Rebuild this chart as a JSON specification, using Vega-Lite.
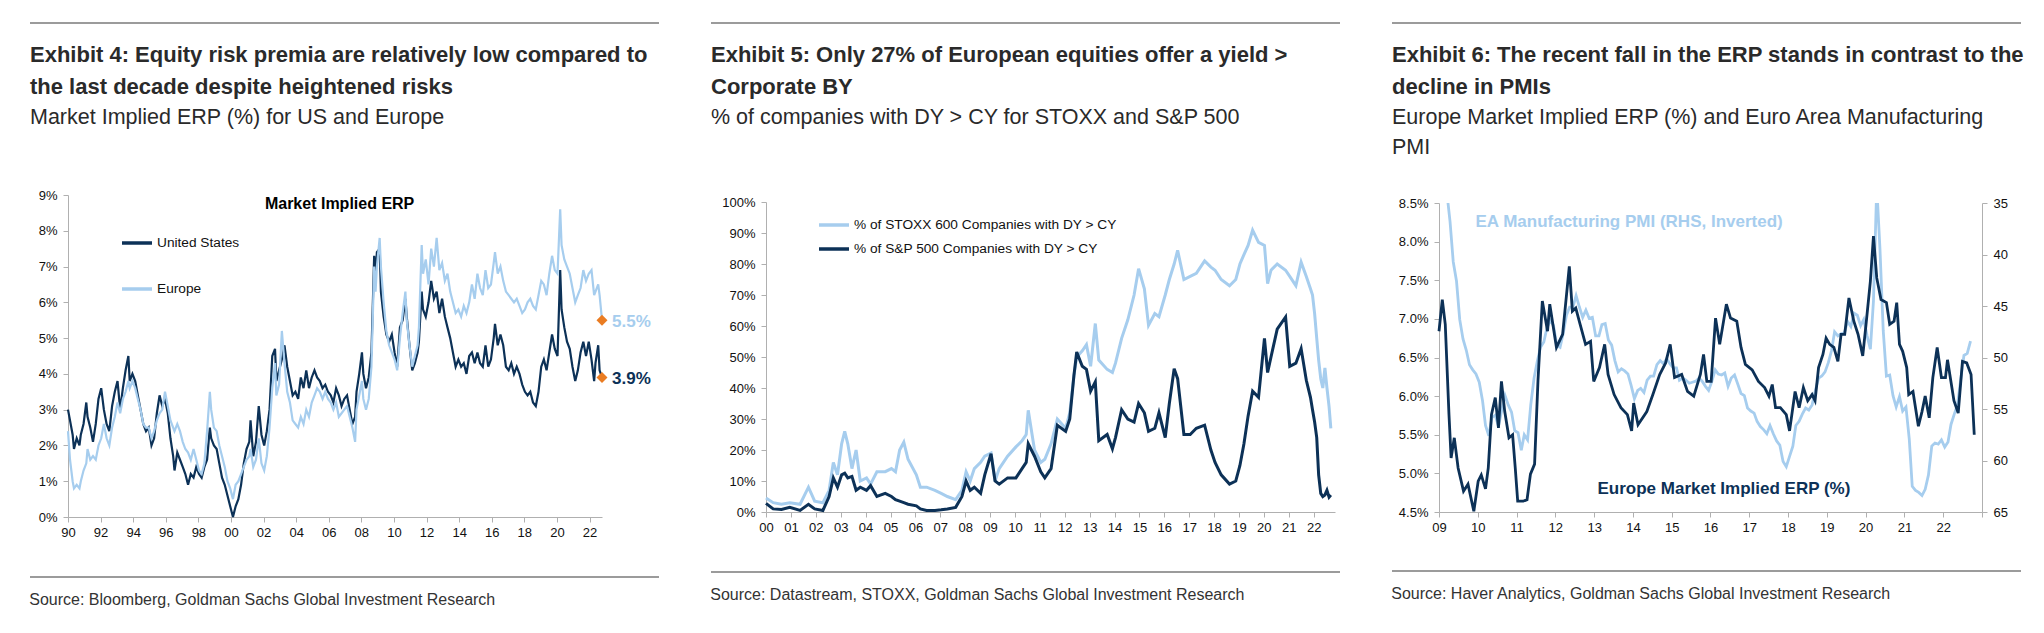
{
  "$schema": "https://vega.github.io/schema/vega-lite/v6.json",
  "padding": {"left": 29, "top": 22, "right": 0, "bottom": 0},
  "background": "white",
  "config": {
    "view": {"stroke": null},
    "font": "Liberation Sans",
    "axis": {"labelFont": "Liberation Sans", "labelFontSize": 13, "labelColor": "#111111", "domainColor": "#b0b0b0", "tickColor": "#b0b0b0", "tickSize": 5, "grid": false, "title": null, "labelPadding": 4, "labelFlush": false, "labelOverlap": false, "labelSeparation": -40},
    "axisX": {"labelOverlap": false, "labelSeparation": -40},
    "axisY": {"labelPadding": 6, "labelOverlap": false, "labelSeparation": -40},
    "legend": {"labelFont": "Liberation Sans", "labelFontSize": 13.7, "labelColor": "#111111", "labelLimit": 400},
    "title": {"font": "Liberation Sans", "fontSize": 22, "fontWeight": "bold", "color": "#2a2a2a", "anchor": "start", "lineHeight": 32, "subtitleFont": "Liberation Sans", "subtitleFontSize": 21.5, "subtitleColor": "#2a2a2a", "subtitleFontWeight": "normal", "subtitleLineHeight": 30, "subtitlePadding": 8, "frame": "bounds"}
  },
  "datasets": {
    "erp": [
      {"d":"1990-01-01","US":3.0,"EU":2.4},{"d":"1990-02-15","US":2.7,"EU":1.6},{"d":"1990-04-15","US":2.3,"EU":1.0},{"d":"1990-05-15","US":1.9,"EU":0.8},{"d":"1990-07-15","US":2.2,"EU":0.9},{"d":"1990-09-15","US":2.0,"EU":0.8},{"d":"1990-10-15","US":2.3,"EU":1.0},{"d":"1990-12-15","US":2.6,"EU":1.3},
      {"d":"1991-02-15","US":3.2,"EU":1.5},{"d":"1991-03-15","US":2.8,"EU":1.9},{"d":"1991-05-15","US":2.5,"EU":1.6},{"d":"1991-07-15","US":2.1,"EU":1.7},{"d":"1991-09-15","US":2.6,"EU":1.6},{"d":"1991-11-15","US":3.3,"EU":2.0},
      {"d":"1992-01-15","US":3.6,"EU":2.2},{"d":"1992-03-15","US":3.0,"EU":2.6},{"d":"1992-05-15","US":2.6,"EU":2.2},{"d":"1992-07-15","US":2.4,"EU":2.0},{"d":"1992-09-15","US":3.1,"EU":2.5},{"d":"1992-11-15","US":3.5,"EU":2.8},
      {"d":"1993-01-15","US":3.8,"EU":3.2},{"d":"1993-03-15","US":3.0,"EU":2.9},{"d":"1993-05-15","US":3.6,"EU":3.3},{"d":"1993-07-15","US":4.1,"EU":3.5},{"d":"1993-09-15","US":4.5,"EU":3.8},{"d":"1993-10-15","US":3.8,"EU":3.6},{"d":"1993-12-15","US":4.0,"EU":3.8},
      {"d":"1994-02-15","US":3.8,"EU":3.6},{"d":"1994-04-15","US":3.4,"EU":3.3},{"d":"1994-06-15","US":3.0,"EU":3.0},{"d":"1994-08-15","US":2.6,"EU":2.6},{"d":"1994-10-15","US":2.4,"EU":2.5},{"d":"1994-12-15","US":2.5,"EU":2.5},
      {"d":"1995-02-15","US":2.0,"EU":2.2},{"d":"1995-04-15","US":2.2,"EU":2.4},{"d":"1995-06-15","US":2.9,"EU":2.7},{"d":"1995-08-15","US":3.4,"EU":2.9},{"d":"1995-10-15","US":3.1,"EU":3.0},{"d":"1995-12-15","US":3.3,"EU":3.5},
      {"d":"1996-02-15","US":2.9,"EU":3.1},{"d":"1996-04-15","US":2.2,"EU":2.7},{"d":"1996-06-15","US":1.7,"EU":2.5},{"d":"1996-07-15","US":1.3,"EU":2.4},{"d":"1996-09-15","US":1.8,"EU":2.6},{"d":"1996-11-15","US":1.6,"EU":2.4},
      {"d":"1997-01-15","US":1.4,"EU":2.1},{"d":"1997-03-15","US":1.2,"EU":1.9},{"d":"1997-05-15","US":0.9,"EU":1.8},{"d":"1997-07-15","US":1.2,"EU":1.6},{"d":"1997-09-15","US":1.1,"EU":1.9},{"d":"1997-11-15","US":1.4,"EU":1.6},
      {"d":"1998-01-15","US":1.2,"EU":1.3},{"d":"1998-03-15","US":1.1,"EU":1.2},{"d":"1998-05-15","US":1.4,"EU":1.5},{"d":"1998-07-15","US":1.6,"EU":2.4},{"d":"1998-09-15","US":2.5,"EU":3.5},{"d":"1998-10-15","US":2.2,"EU":3.0},{"d":"1998-12-15","US":2.0,"EU":2.5},
      {"d":"1999-02-15","US":1.9,"EU":2.4},{"d":"1999-04-15","US":1.5,"EU":2.0},{"d":"1999-06-15","US":1.1,"EU":1.7},{"d":"1999-08-15","US":0.9,"EU":1.4},{"d":"1999-10-15","US":0.6,"EU":1.0},{"d":"1999-12-15","US":0.3,"EU":0.8},
      {"d":"2000-02-15","US":0.0,"EU":0.5},{"d":"2000-04-15","US":0.3,"EU":0.9},{"d":"2000-06-15","US":0.5,"EU":1.0},{"d":"2000-08-15","US":0.9,"EU":1.2},{"d":"2000-10-15","US":1.5,"EU":1.4},{"d":"2000-12-15","US":1.9,"EU":1.6},
      {"d":"2001-02-15","US":2.1,"EU":1.7},{"d":"2001-03-15","US":2.7,"EU":1.9},{"d":"2001-05-15","US":1.7,"EU":1.4},{"d":"2001-07-15","US":2.1,"EU":1.6},{"d":"2001-09-15","US":3.1,"EU":2.2},{"d":"2001-11-15","US":2.3,"EU":1.5},
      {"d":"2002-01-15","US":2.0,"EU":1.3},{"d":"2002-03-15","US":2.4,"EU":1.7},{"d":"2002-05-15","US":3.0,"EU":2.5},{"d":"2002-07-15","US":4.5,"EU":3.6},{"d":"2002-09-15","US":4.7,"EU":4.3},{"d":"2002-10-15","US":3.8,"EU":3.4},{"d":"2002-12-15","US":4.1,"EU":3.7},
      {"d":"2003-02-15","US":4.4,"EU":5.2},{"d":"2003-04-15","US":4.8,"EU":4.3},{"d":"2003-06-15","US":4.2,"EU":3.5},{"d":"2003-08-15","US":3.8,"EU":3.2},{"d":"2003-10-15","US":3.4,"EU":2.7},{"d":"2003-12-15","US":3.5,"EU":2.6},
      {"d":"2004-02-15","US":3.3,"EU":2.5},{"d":"2004-04-15","US":3.9,"EU":2.8},{"d":"2004-06-15","US":3.6,"EU":2.6},{"d":"2004-08-15","US":4.1,"EU":3.0},{"d":"2004-10-15","US":3.6,"EU":2.8},{"d":"2004-12-15","US":3.9,"EU":3.2},
      {"d":"2005-02-15","US":4.1,"EU":3.4},{"d":"2005-04-15","US":3.9,"EU":3.6},{"d":"2005-06-15","US":3.8,"EU":3.5},{"d":"2005-08-15","US":3.6,"EU":3.3},{"d":"2005-10-15","US":3.7,"EU":3.5},{"d":"2005-12-15","US":3.5,"EU":3.3},
      {"d":"2006-02-15","US":3.4,"EU":3.2},{"d":"2006-04-15","US":3.2,"EU":3.0},{"d":"2006-06-15","US":3.6,"EU":3.2},{"d":"2006-08-15","US":3.4,"EU":2.8},{"d":"2006-10-15","US":3.1,"EU":2.9},{"d":"2006-12-15","US":3.3,"EU":3.0},
      {"d":"2007-02-15","US":3.4,"EU":3.1},{"d":"2007-04-15","US":3.0,"EU":2.8},{"d":"2007-06-15","US":2.6,"EU":2.5},{"d":"2007-08-15","US":2.8,"EU":2.1},{"d":"2007-09-15","US":3.5,"EU":3.0},{"d":"2007-11-15","US":4.0,"EU":3.4},
      {"d":"2008-01-15","US":4.6,"EU":3.8},{"d":"2008-02-15","US":4.0,"EU":3.3},{"d":"2008-04-15","US":3.6,"EU":3.0},{"d":"2008-06-15","US":3.9,"EU":3.3},{"d":"2008-08-15","US":4.6,"EU":4.2},{"d":"2008-10-15","US":7.3,"EU":7.0},{"d":"2008-11-15","US":6.8,"EU":6.3},{"d":"2008-12-15","US":7.4,"EU":7.0},
      {"d":"2009-02-15","US":7.5,"EU":7.8},{"d":"2009-03-15","US":6.3,"EU":7.0},{"d":"2009-05-15","US":5.6,"EU":6.0},{"d":"2009-07-15","US":5.1,"EU":5.2},{"d":"2009-09-15","US":4.9,"EU":4.8},{"d":"2009-11-15","US":5.1,"EU":4.6},
      {"d":"2010-01-15","US":4.6,"EU":4.4},{"d":"2010-03-15","US":4.2,"EU":4.1},{"d":"2010-05-15","US":5.3,"EU":5.0},{"d":"2010-07-15","US":5.5,"EU":5.7},{"d":"2010-09-15","US":6.1,"EU":6.3},{"d":"2010-10-15","US":5.6,"EU":5.5},{"d":"2010-12-15","US":4.8,"EU":4.8},
      {"d":"2011-02-15","US":4.1,"EU":4.2},{"d":"2011-04-15","US":4.3,"EU":4.5},{"d":"2011-06-15","US":4.6,"EU":4.8},{"d":"2011-07-15","US":4.9,"EU":5.3},{"d":"2011-09-15","US":6.3,"EU":7.6},{"d":"2011-10-15","US":5.8,"EU":6.8},{"d":"2011-12-15","US":5.6,"EU":7.2},
      {"d":"2012-02-15","US":6.0,"EU":6.5},{"d":"2012-04-15","US":6.6,"EU":7.5},{"d":"2012-06-15","US":6.1,"EU":7.0},{"d":"2012-08-15","US":6.3,"EU":7.8},{"d":"2012-10-15","US":5.7,"EU":6.9},{"d":"2012-12-15","US":6.1,"EU":7.1},
      {"d":"2013-02-15","US":5.6,"EU":6.6},{"d":"2013-04-15","US":5.3,"EU":6.8},{"d":"2013-06-15","US":5.0,"EU":6.3},{"d":"2013-08-15","US":4.6,"EU":6.0},{"d":"2013-10-15","US":4.2,"EU":5.7},{"d":"2013-12-15","US":4.4,"EU":5.8},
      {"d":"2014-02-15","US":4.2,"EU":5.6},{"d":"2014-04-15","US":4.3,"EU":5.9},{"d":"2014-06-15","US":4.0,"EU":5.7},{"d":"2014-08-15","US":4.5,"EU":6.0},{"d":"2014-10-15","US":4.6,"EU":6.5},{"d":"2014-12-15","US":4.3,"EU":6.1},
      {"d":"2015-02-15","US":4.6,"EU":6.8},{"d":"2015-04-15","US":4.3,"EU":6.4},{"d":"2015-06-15","US":4.2,"EU":6.2},{"d":"2015-08-15","US":4.8,"EU":6.9},{"d":"2015-10-15","US":4.2,"EU":6.4},{"d":"2015-12-15","US":4.4,"EU":6.5},
      {"d":"2016-02-15","US":5.0,"EU":7.1},{"d":"2016-03-15","US":5.4,"EU":7.4},{"d":"2016-05-15","US":4.8,"EU":6.8},{"d":"2016-07-15","US":5.1,"EU":7.0},{"d":"2016-09-15","US":4.8,"EU":6.6},{"d":"2016-11-15","US":4.2,"EU":6.3},
      {"d":"2017-01-15","US":4.1,"EU":6.2},{"d":"2017-03-15","US":4.3,"EU":6.1},{"d":"2017-05-15","US":4.0,"EU":6.0},{"d":"2017-07-15","US":4.2,"EU":6.1},{"d":"2017-09-15","US":4.0,"EU":5.9},{"d":"2017-11-15","US":3.7,"EU":5.7},
      {"d":"2018-01-15","US":3.5,"EU":5.8},{"d":"2018-03-15","US":3.4,"EU":6.0},{"d":"2018-05-15","US":3.5,"EU":6.1},{"d":"2018-07-15","US":3.2,"EU":5.9},{"d":"2018-09-15","US":3.1,"EU":5.8},{"d":"2018-11-15","US":3.5,"EU":6.2},
      {"d":"2019-01-15","US":4.2,"EU":6.6},{"d":"2019-03-15","US":4.4,"EU":6.5},{"d":"2019-05-15","US":4.1,"EU":6.2},{"d":"2019-07-15","US":4.6,"EU":6.8},{"d":"2019-09-15","US":5.1,"EU":7.3},{"d":"2019-11-15","US":4.7,"EU":6.9},
      {"d":"2020-01-15","US":4.5,"EU":6.8},{"d":"2020-03-15","US":6.9,"EU":8.6},{"d":"2020-04-15","US":5.8,"EU":7.6},{"d":"2020-06-15","US":5.3,"EU":7.2},{"d":"2020-08-15","US":4.9,"EU":7.0},{"d":"2020-10-15","US":4.7,"EU":6.8},{"d":"2020-12-15","US":4.2,"EU":6.4},
      {"d":"2021-02-15","US":3.8,"EU":6.0},{"d":"2021-04-15","US":4.1,"EU":6.2},{"d":"2021-06-15","US":4.6,"EU":6.4},{"d":"2021-08-15","US":4.9,"EU":6.9},{"d":"2021-10-15","US":4.5,"EU":6.6},{"d":"2021-12-15","US":4.9,"EU":6.8},
      {"d":"2022-02-15","US":4.4,"EU":6.9},{"d":"2022-04-15","US":3.8,"EU":6.2},{"d":"2022-05-15","US":4.3,"EU":6.3},{"d":"2022-07-15","US":4.8,"EU":6.5},{"d":"2022-08-15","US":4.1,"EU":6.2},{"d":"2022-10-08","US":3.9,"EU":5.5}
    ],
    "erpEnd": [
      {"d":"2022-10-08","s":"EU","v":5.5,"lab":"5.5%"},
      {"d":"2022-10-08","s":"US","v":3.9,"lab":"3.9%"}
    ],
    "dy": [
      {"d":"2000-01-01","STOXX":4.5,"SP":2.8},{"d":"2000-04-15","STOXX":3.0,"SP":1.0},{"d":"2000-08-15","STOXX":2.5,"SP":0.8},{"d":"2000-12-15","STOXX":3.0,"SP":1.5},
      {"d":"2001-05-15","STOXX":2.5,"SP":0.5},{"d":"2001-09-15","STOXX":8.0,"SP":2.5},{"d":"2001-12-15","STOXX":3.5,"SP":1.0},
      {"d":"2002-04-15","STOXX":3.0,"SP":0.5},{"d":"2002-07-15","STOXX":7.0,"SP":5.0},{"d":"2002-09-15","STOXX":16.0,"SP":11.0},{"d":"2002-11-15","STOXX":12.0,"SP":8.0},
      {"d":"2003-01-15","STOXX":22.0,"SP":12.0},{"d":"2003-03-01","STOXX":26.0,"SP":12.5},{"d":"2003-04-15","STOXX":22.0,"SP":11.0},{"d":"2003-06-15","STOXX":14.0,"SP":11.5},{"d":"2003-08-15","STOXX":20.0,"SP":7.0},{"d":"2003-10-15","STOXX":10.0,"SP":8.0},
      {"d":"2004-01-15","STOXX":11.0,"SP":7.0},{"d":"2004-03-15","STOXX":9.0,"SP":8.5},{"d":"2004-06-15","STOXX":13.0,"SP":5.0},{"d":"2004-10-15","STOXX":13.0,"SP":6.0},
      {"d":"2005-01-15","STOXX":14.0,"SP":5.0},{"d":"2005-03-15","STOXX":13.0,"SP":4.0},{"d":"2005-05-15","STOXX":20.0,"SP":3.5},{"d":"2005-07-15","STOXX":22.5,"SP":3.0},{"d":"2005-09-15","STOXX":17.0,"SP":2.5},
      {"d":"2006-01-15","STOXX":12.0,"SP":2.0},{"d":"2006-03-15","STOXX":8.0,"SP":1.0},{"d":"2006-06-15","STOXX":8.0,"SP":0.5},{"d":"2006-10-15","STOXX":7.0,"SP":0.5},
      {"d":"2007-01-15","STOXX":6.0,"SP":0.7},{"d":"2007-04-15","STOXX":5.0,"SP":1.0},{"d":"2007-08-15","STOXX":4.0,"SP":1.5},{"d":"2007-11-15","STOXX":7.0,"SP":5.0},
      {"d":"2008-01-15","STOXX":13.0,"SP":10.0},{"d":"2008-03-15","STOXX":10.0,"SP":7.0},{"d":"2008-05-15","STOXX":14.0,"SP":8.0},{"d":"2008-08-15","STOXX":16.0,"SP":6.0},{"d":"2008-10-15","STOXX":18.0,"SP":12.0},
      {"d":"2009-01-15","STOXX":19.0,"SP":18.8},{"d":"2009-03-15","STOXX":10.0,"SP":10.0},{"d":"2009-05-15","STOXX":14.0,"SP":9.0},{"d":"2009-09-15","STOXX":18.0,"SP":11.0},
      {"d":"2010-01-15","STOXX":21.0,"SP":11.0},{"d":"2010-04-15","STOXX":23.0,"SP":14.0},{"d":"2010-06-15","STOXX":25.0,"SP":16.0},{"d":"2010-07-15","STOXX":32.8,"SP":22.0},{"d":"2010-10-15","STOXX":20.0,"SP":18.0},
      {"d":"2011-01-15","STOXX":16.0,"SP":13.0},{"d":"2011-03-15","STOXX":17.0,"SP":11.0},{"d":"2011-06-15","STOXX":22.0,"SP":14.0},{"d":"2011-09-15","STOXX":30.0,"SP":28.0},
      {"d":"2012-01-15","STOXX":27.0,"SP":26.0},{"d":"2012-03-15","STOXX":32.0,"SP":30.0},{"d":"2012-05-15","STOXX":44.0,"SP":44.0},{"d":"2012-06-25","STOXX":50.0,"SP":51.6},{"d":"2012-09-15","STOXX":52.0,"SP":47.0},{"d":"2012-11-15","STOXX":54.0,"SP":46.0},
      {"d":"2013-01-15","STOXX":47.0,"SP":39.0},{"d":"2013-03-25","STOXX":60.8,"SP":42.0},{"d":"2013-05-15","STOXX":49.0,"SP":23.0},{"d":"2013-09-15","STOXX":46.0,"SP":25.0},{"d":"2013-12-01","STOXX":45.0,"SP":20.4},
      {"d":"2014-01-15","STOXX":48.0,"SP":24.0},{"d":"2014-04-15","STOXX":56.0,"SP":33.0},{"d":"2014-07-15","STOXX":62.0,"SP":30.0},{"d":"2014-10-15","STOXX":70.0,"SP":29.0},{"d":"2014-12-20","STOXX":78.5,"SP":35.0},
      {"d":"2015-03-15","STOXX":72.0,"SP":32.0},{"d":"2015-05-15","STOXX":60.2,"SP":26.0},{"d":"2015-08-15","STOXX":64.0,"SP":27.0},{"d":"2015-10-15","STOXX":63.0,"SP":32.0},
      {"d":"2016-01-15","STOXX":70.0,"SP":24.0},{"d":"2016-03-15","STOXX":75.0,"SP":35.0},{"d":"2016-05-25","STOXX":80.0,"SP":46.2},{"d":"2016-07-15","STOXX":84.4,"SP":43.0},{"d":"2016-10-15","STOXX":75.0,"SP":25.0},
      {"d":"2017-01-15","STOXX":76.0,"SP":25.0},{"d":"2017-04-15","STOXX":77.0,"SP":27.0},{"d":"2017-08-15","STOXX":81.0,"SP":28.0},{"d":"2017-11-15","STOXX":79.0,"SP":20.0},
      {"d":"2018-01-15","STOXX":78.0,"SP":16.0},{"d":"2018-04-15","STOXX":75.0,"SP":12.0},{"d":"2018-08-15","STOXX":73.0,"SP":9.0},{"d":"2018-11-15","STOXX":75.0,"SP":10.0},
      {"d":"2019-01-15","STOXX":80.0,"SP":15.0},{"d":"2019-03-15","STOXX":83.0,"SP":22.0},{"d":"2019-05-15","STOXX":86.0,"SP":31.0},{"d":"2019-07-20","STOXX":90.9,"SP":39.0},{"d":"2019-10-15","STOXX":87.0,"SP":37.0},
      {"d":"2020-01-10","STOXX":86.0,"SP":56.0},{"d":"2020-02-25","STOXX":73.7,"SP":45.0},{"d":"2020-04-15","STOXX":78.0,"SP":50.0},{"d":"2020-07-15","STOXX":80.0,"SP":59.0},{"d":"2020-11-15","STOXX":78.0,"SP":62.9},
      {"d":"2021-01-15","STOXX":76.0,"SP":47.0},{"d":"2021-04-15","STOXX":73.0,"SP":48.0},{"d":"2021-07-01","STOXX":80.6,"SP":52.7},{"d":"2021-09-15","STOXX":76.0,"SP":42.5},{"d":"2021-11-15","STOXX":72.0,"SP":37.0},{"d":"2021-12-15","STOXX":70.0,"SP":33.0},
      {"d":"2022-01-15","STOXX":64.0,"SP":29.0},{"d":"2022-02-15","STOXX":56.0,"SP":24.0},{"d":"2022-03-15","STOXX":49.0,"SP":12.0},{"d":"2022-04-15","STOXX":43.0,"SP":6.0},{"d":"2022-05-15","STOXX":40.0,"SP":5.0},{"d":"2022-06-15","STOXX":46.5,"SP":5.5},{"d":"2022-07-15","STOXX":40.0,"SP":7.0},{"d":"2022-08-15","STOXX":34.0,"SP":4.8},{"d":"2022-09-10","STOXX":27.0,"SP":5.5}
    ],
    "erp3": [
      {"d":"2009-01-01","v":6.84},{"d":"2009-02-01","v":7.25},{"d":"2009-03-01","v":6.93},{"d":"2009-04-05","v":5.76},{"d":"2009-04-25","v":5.2},{"d":"2009-05-25","v":5.46},{"d":"2009-06-30","v":5.07},{"d":"2009-08-20","v":4.77},{"d":"2009-10-01","v":4.86},{"d":"2009-11-25","v":4.51},
      {"d":"2010-01-05","v":4.9},{"d":"2010-02-03","v":4.98},{"d":"2010-03-15","v":4.8},{"d":"2010-04-10","v":5.07},{"d":"2010-05-10","v":5.76},{"d":"2010-06-15","v":5.98},{"d":"2010-07-15","v":5.59},{"d":"2010-08-12","v":6.19},{"d":"2010-09-12","v":5.8},{"d":"2010-10-22","v":5.46},{"d":"2010-11-25","v":5.5},{"d":"2010-12-20","v":5.07},
      {"d":"2011-01-12","v":4.64},{"d":"2011-03-05","v":4.64},{"d":"2011-04-10","v":4.66},{"d":"2011-05-12","v":4.99},{"d":"2011-06-20","v":5.12},{"d":"2011-07-22","v":6.2},{"d":"2011-09-01","v":7.23},{"d":"2011-10-20","v":6.84},{"d":"2011-11-10","v":7.19},
      {"d":"2012-01-12","v":6.63},{"d":"2012-03-10","v":6.8},{"d":"2012-05-12","v":7.68},{"d":"2012-06-10","v":7.1},{"d":"2012-07-12","v":7.14},{"d":"2012-08-22","v":6.93},{"d":"2012-10-12","v":6.67},{"d":"2012-11-28","v":6.71},{"d":"2012-12-28","v":6.19},
      {"d":"2013-02-20","v":6.37},{"d":"2013-04-10","v":6.67},{"d":"2013-05-12","v":6.28},{"d":"2013-07-08","v":6.02},{"d":"2013-09-10","v":5.85},{"d":"2013-11-10","v":5.76},{"d":"2013-12-20","v":5.55},
      {"d":"2014-01-08","v":5.91},{"d":"2014-02-18","v":5.63},{"d":"2014-05-12","v":5.8},{"d":"2014-07-08","v":6.02},{"d":"2014-09-10","v":6.28},{"d":"2014-11-05","v":6.43},{"d":"2014-12-18","v":6.67},
      {"d":"2015-01-28","v":6.24},{"d":"2015-04-05","v":6.28},{"d":"2015-05-30","v":6.06},{"d":"2015-07-28","v":6.0},{"d":"2015-09-28","v":6.28},{"d":"2015-10-28","v":6.54},{"d":"2015-11-28","v":6.19},
      {"d":"2016-01-08","v":6.19},{"d":"2016-02-18","v":7.01},{"d":"2016-03-28","v":6.67},{"d":"2016-05-30","v":7.19},{"d":"2016-07-08","v":7.01},{"d":"2016-09-05","v":6.97},{"d":"2016-10-15","v":6.63},{"d":"2016-11-25","v":6.41},
      {"d":"2017-01-28","v":6.34},{"d":"2017-03-28","v":6.19},{"d":"2017-05-25","v":6.11},{"d":"2017-07-05","v":6.0},{"d":"2017-08-05","v":6.15},{"d":"2017-09-05","v":5.85},{"d":"2017-10-20","v":5.85},{"d":"2017-12-15","v":5.76},
      {"d":"2018-01-15","v":5.55},{"d":"2018-03-08","v":6.06},{"d":"2018-04-15","v":5.85},{"d":"2018-05-25","v":6.11},{"d":"2018-07-05","v":5.94},{"d":"2018-08-15","v":6.02},{"d":"2018-09-12","v":5.94},{"d":"2018-10-15","v":6.37},{"d":"2018-11-25","v":6.54},{"d":"2018-12-25","v":6.75},
      {"d":"2019-01-28","v":6.67},{"d":"2019-03-08","v":6.63},{"d":"2019-04-15","v":6.45},{"d":"2019-05-15","v":6.8},{"d":"2019-06-18","v":6.8},{"d":"2019-07-28","v":7.27},{"d":"2019-09-12","v":6.97},{"d":"2019-10-22","v":6.8},{"d":"2019-12-05","v":6.52},
      {"d":"2020-01-05","v":6.93},{"d":"2020-02-15","v":7.49},{"d":"2020-03-15","v":8.07},{"d":"2020-04-15","v":7.53},{"d":"2020-05-25","v":7.25},{"d":"2020-07-15","v":7.21},{"d":"2020-08-15","v":6.93},{"d":"2020-09-25","v":6.97},{"d":"2020-10-20","v":7.21},{"d":"2020-11-15","v":6.67},{"d":"2020-12-15","v":6.58},
      {"d":"2021-01-22","v":6.37},{"d":"2021-02-10","v":6.02},{"d":"2021-03-22","v":6.06},{"d":"2021-05-12","v":5.61},{"d":"2021-06-15","v":5.8},{"d":"2021-07-15","v":6.0},{"d":"2021-08-22","v":5.72},{"d":"2021-09-25","v":6.24},{"d":"2021-11-05","v":6.63},{"d":"2021-12-15","v":6.24},
      {"d":"2022-01-22","v":6.24},{"d":"2022-02-10","v":6.47},{"d":"2022-04-12","v":5.94},{"d":"2022-05-22","v":5.78},{"d":"2022-07-01","v":6.45},{"d":"2022-08-10","v":6.43},{"d":"2022-09-20","v":6.28},{"d":"2022-10-20","v":5.5}
    ],
    "pmi": [
      {"d":"2009-01-15","v":34.4},{"d":"2009-02-15","v":33.5},{"d":"2009-03-15","v":33.9},{"d":"2009-04-15","v":36.8},{"d":"2009-05-15","v":40.7},{"d":"2009-06-15","v":42.6},{"d":"2009-07-15","v":46.3},{"d":"2009-08-15","v":48.2},{"d":"2009-09-15","v":49.3},{"d":"2009-10-15","v":50.7},{"d":"2009-11-15","v":51.2},{"d":"2009-12-15","v":51.6},
      {"d":"2010-01-15","v":52.4},{"d":"2010-02-15","v":54.2},{"d":"2010-03-15","v":56.6},{"d":"2010-04-15","v":57.6},{"d":"2010-05-15","v":55.8},{"d":"2010-06-15","v":55.6},{"d":"2010-07-15","v":56.7},{"d":"2010-08-15","v":55.1},{"d":"2010-09-15","v":53.7},{"d":"2010-10-15","v":54.6},{"d":"2010-11-15","v":55.3},{"d":"2010-12-15","v":57.1},
      {"d":"2011-01-15","v":57.3},{"d":"2011-02-15","v":59.0},{"d":"2011-03-15","v":57.5},{"d":"2011-04-15","v":58.0},{"d":"2011-05-15","v":54.6},{"d":"2011-06-15","v":52.0},{"d":"2011-07-15","v":50.4},{"d":"2011-08-15","v":49.0},{"d":"2011-09-15","v":48.5},{"d":"2011-10-15","v":47.1},{"d":"2011-11-15","v":46.4},{"d":"2011-12-15","v":46.9},
      {"d":"2012-01-15","v":48.8},{"d":"2012-02-15","v":49.0},{"d":"2012-03-15","v":47.7},{"d":"2012-04-15","v":45.9},{"d":"2012-05-15","v":45.1},{"d":"2012-06-15","v":45.1},{"d":"2012-07-15","v":44.0},{"d":"2012-08-15","v":45.1},{"d":"2012-09-15","v":46.1},{"d":"2012-10-15","v":45.4},{"d":"2012-11-15","v":46.2},{"d":"2012-12-15","v":46.1},
      {"d":"2013-01-15","v":47.9},{"d":"2013-02-15","v":47.9},{"d":"2013-03-15","v":46.8},{"d":"2013-04-15","v":46.7},{"d":"2013-05-15","v":48.3},{"d":"2013-06-15","v":48.8},{"d":"2013-07-15","v":50.3},{"d":"2013-08-15","v":51.4},{"d":"2013-09-15","v":51.1},{"d":"2013-10-15","v":51.3},{"d":"2013-11-15","v":51.6},{"d":"2013-12-15","v":52.7},
      {"d":"2014-01-15","v":54.0},{"d":"2014-02-15","v":53.2},{"d":"2014-03-15","v":53.0},{"d":"2014-04-15","v":53.4},{"d":"2014-05-15","v":52.2},{"d":"2014-06-15","v":51.8},{"d":"2014-07-15","v":51.8},{"d":"2014-08-15","v":50.7},{"d":"2014-09-15","v":50.3},{"d":"2014-10-15","v":50.6},{"d":"2014-11-15","v":50.1},{"d":"2014-12-15","v":50.6},
      {"d":"2015-01-15","v":51.0},{"d":"2015-02-15","v":51.0},{"d":"2015-03-15","v":52.2},{"d":"2015-04-15","v":52.0},{"d":"2015-05-15","v":52.2},{"d":"2015-06-15","v":52.5},{"d":"2015-07-15","v":52.4},{"d":"2015-08-15","v":52.3},{"d":"2015-09-15","v":52.0},{"d":"2015-10-15","v":52.3},{"d":"2015-11-15","v":52.8},{"d":"2015-12-15","v":53.2},
      {"d":"2016-01-15","v":52.3},{"d":"2016-02-15","v":51.2},{"d":"2016-03-15","v":51.6},{"d":"2016-04-15","v":51.7},{"d":"2016-05-15","v":51.5},{"d":"2016-06-15","v":52.8},{"d":"2016-07-15","v":52.0},{"d":"2016-08-15","v":51.7},{"d":"2016-09-15","v":52.6},{"d":"2016-10-15","v":53.5},{"d":"2016-11-15","v":53.7},{"d":"2016-12-15","v":54.9},
      {"d":"2017-01-15","v":55.2},{"d":"2017-02-15","v":55.4},{"d":"2017-03-15","v":56.2},{"d":"2017-04-15","v":56.7},{"d":"2017-05-15","v":57.0},{"d":"2017-06-15","v":57.4},{"d":"2017-07-15","v":56.6},{"d":"2017-08-15","v":57.4},{"d":"2017-09-15","v":58.1},{"d":"2017-10-15","v":58.5},{"d":"2017-11-15","v":60.1},{"d":"2017-12-15","v":60.6},
      {"d":"2018-01-15","v":59.6},{"d":"2018-02-15","v":58.6},{"d":"2018-03-15","v":56.6},{"d":"2018-04-15","v":56.2},{"d":"2018-05-15","v":55.5},{"d":"2018-06-15","v":54.9},{"d":"2018-07-15","v":55.1},{"d":"2018-08-15","v":54.6},{"d":"2018-09-15","v":53.2},{"d":"2018-10-15","v":52.0},{"d":"2018-11-15","v":51.8},{"d":"2018-12-15","v":51.4},
      {"d":"2019-01-15","v":50.5},{"d":"2019-02-15","v":49.3},{"d":"2019-03-15","v":47.5},{"d":"2019-04-15","v":47.9},{"d":"2019-05-15","v":47.7},{"d":"2019-06-15","v":47.6},{"d":"2019-07-15","v":46.5},{"d":"2019-08-15","v":47.0},{"d":"2019-09-15","v":45.7},{"d":"2019-10-15","v":45.9},{"d":"2019-11-15","v":46.9},{"d":"2019-12-15","v":46.3},
      {"d":"2020-01-15","v":47.9},{"d":"2020-02-15","v":49.2},{"d":"2020-03-15","v":44.5},{"d":"2020-04-15","v":33.4},{"d":"2020-05-15","v":39.4},{"d":"2020-06-15","v":47.4},{"d":"2020-07-15","v":51.8},{"d":"2020-08-15","v":51.7},{"d":"2020-09-15","v":53.7},{"d":"2020-10-15","v":54.8},{"d":"2020-11-15","v":53.8},{"d":"2020-12-15","v":55.2},
      {"d":"2021-01-15","v":54.8},{"d":"2021-02-15","v":57.9},{"d":"2021-03-15","v":62.5},{"d":"2021-04-15","v":62.9},{"d":"2021-05-15","v":63.1},{"d":"2021-06-15","v":63.4},{"d":"2021-07-15","v":62.8},{"d":"2021-08-15","v":61.4},{"d":"2021-09-15","v":58.6},{"d":"2021-10-15","v":58.3},{"d":"2021-11-15","v":58.4},{"d":"2021-12-15","v":58.0},
      {"d":"2022-01-15","v":58.7},{"d":"2022-02-15","v":58.2},{"d":"2022-03-15","v":56.5},{"d":"2022-04-15","v":55.5},{"d":"2022-05-15","v":54.6},{"d":"2022-06-15","v":52.1},{"d":"2022-07-15","v":49.8},{"d":"2022-08-15","v":49.6},{"d":"2022-09-15","v":48.4}
    ]
  },
  "resolve": {"scale": {"color": "independent"}, "legend": {"color": "independent"}},
  "spacing": 50,
  "hconcat": [
    {
      "spacing": 10,
      "columns": 1,
      "resolve": {"scale": {"color": "independent"}, "legend": {"color": "independent"}},
      "concat": [
        {"width": 591, "height": 10, "data": {"values": [{}]}, "mark": {"type": "rule", "color": "#7a7a7a", "strokeWidth": 1.5},
         "encoding": {"x": {"datum": -38, "type": "quantitative", "scale": {"domain": [0, 591], "nice": false, "zero": false}, "axis": null}, "x2": {"datum": 591}, "y": {"datum": 1, "type": "quantitative", "scale": {"domain": [0, 1]}, "axis": null}}},
        {
          "width": 534, "height": 322,
          "title": {"text": ["Exhibit 4: Equity risk premia are relatively low compared to", "the last decade despite heightened risks"], "subtitle": "Market Implied ERP (%) for US and Europe", "offset": 60},
          "layer": [
            {
              "data": {"name": "erp"},
              "transform": [{"fold": ["US", "EU"], "as": ["s", "v"]}],
              "mark": {"type": "line", "strokeWidth": 2.2},
              "encoding": {
                "x": {"field": "d", "type": "temporal", "scale": {"type": "utc", "domain": [{"year": 1990, "month": 1, "date": 1, "utc": true}, {"year": 2022, "month": 10, "date": 8, "utc": true}]},
                      "axis": {"labelOverlap": false, "labelSeparation": -40, "labelFlush": false, "values": [{"year":1990,"utc":true},{"year":1992,"utc":true},{"year":1994,"utc":true},{"year":1996,"utc":true},{"year":1998,"utc":true},{"year":2000,"utc":true},{"year":2002,"utc":true},{"year":2004,"utc":true},{"year":2006,"utc":true},{"year":2008,"utc":true},{"year":2010,"utc":true},{"year":2012,"utc":true},{"year":2014,"utc":true},{"year":2016,"utc":true},{"year":2018,"utc":true},{"year":2020,"utc":true},{"year":2022,"utc":true}], "labelExpr": "utcFormat(datum.value, '%y')"}},
                "y": {"field": "v", "type": "quantitative", "scale": {"domain": [0, 9]}, "axis": {"labelOverlap": false, "labelSeparation": -40, "values": [0,1,2,3,4,5,6,7,8,9], "labelExpr": "datum.value + '%'", "minExtent": 38}},
                "color": {"field": "s", "type": "nominal", "scale": {"domain": ["US", "EU"], "range": ["#0c3157", "#a6cdee"]},
                          "legend": {"title": null, "orient": "none", "legendX": 52, "legendY": 31, "direction": "vertical", "symbolType": "stroke", "symbolSize": 900, "symbolStrokeWidth": 3.5, "rowPadding": 22, "labelOffset": 3, "padding": 0, "labelExpr": "datum.label == 'US' ? 'United States' : 'Europe'"}}
              }
            },
            {
              "data": {"name": "erpEnd"},
              "mark": {"type": "point", "shape": "diamond", "filled": true, "color": "#ea7c22", "opacity": 1, "size": 120},
              "encoding": {
                "x": {"field": "d", "type": "temporal", "axis": {"labelOverlap": false, "labelSeparation": -40, "labelFlush": false, "values": [{"year":1990,"utc":true},{"year":1992,"utc":true},{"year":1994,"utc":true},{"year":1996,"utc":true},{"year":1998,"utc":true},{"year":2000,"utc":true},{"year":2002,"utc":true},{"year":2004,"utc":true},{"year":2006,"utc":true},{"year":2008,"utc":true},{"year":2010,"utc":true},{"year":2012,"utc":true},{"year":2014,"utc":true},{"year":2016,"utc":true},{"year":2018,"utc":true},{"year":2020,"utc":true},{"year":2022,"utc":true}], "labelExpr": "utcFormat(datum.value, '%y')"}},
                "y": {"field": "v", "type": "quantitative", "axis": {"labelOverlap": false, "labelSeparation": -40, "values": [0,1,2,3,4,5,6,7,8,9], "labelExpr": "datum.value + '%'", "minExtent": 38}}
              }
            },
            {
              "data": {"name": "erpEnd"},
              "transform": [{"filter": "datum.s == 'EU'"}],
              "mark": {"type": "text", "align": "left", "baseline": "middle", "dx": 10, "dy": 2, "fontSize": 17, "fontWeight": "bold", "color": "#a6cdee"},
              "encoding": {
                "x": {"field": "d", "type": "temporal", "axis": {"labelOverlap": false, "labelSeparation": -40, "labelFlush": false, "values": [{"year":1990,"utc":true},{"year":1992,"utc":true},{"year":1994,"utc":true},{"year":1996,"utc":true},{"year":1998,"utc":true},{"year":2000,"utc":true},{"year":2002,"utc":true},{"year":2004,"utc":true},{"year":2006,"utc":true},{"year":2008,"utc":true},{"year":2010,"utc":true},{"year":2012,"utc":true},{"year":2014,"utc":true},{"year":2016,"utc":true},{"year":2018,"utc":true},{"year":2020,"utc":true},{"year":2022,"utc":true}], "labelExpr": "utcFormat(datum.value, '%y')"}},
                "y": {"field": "v", "type": "quantitative", "axis": {"labelOverlap": false, "labelSeparation": -40, "values": [0,1,2,3,4,5,6,7,8,9], "labelExpr": "datum.value + '%'", "minExtent": 38}},
                "text": {"field": "lab"}}
            },
            {
              "data": {"name": "erpEnd"},
              "transform": [{"filter": "datum.s == 'US'"}],
              "mark": {"type": "text", "align": "left", "baseline": "middle", "dx": 10, "dy": 2, "fontSize": 17, "fontWeight": "bold", "color": "#0c3157"},
              "encoding": {
                "x": {"field": "d", "type": "temporal", "axis": {"labelOverlap": false, "labelSeparation": -40, "labelFlush": false, "values": [{"year":1990,"utc":true},{"year":1992,"utc":true},{"year":1994,"utc":true},{"year":1996,"utc":true},{"year":1998,"utc":true},{"year":2000,"utc":true},{"year":2002,"utc":true},{"year":2004,"utc":true},{"year":2006,"utc":true},{"year":2008,"utc":true},{"year":2010,"utc":true},{"year":2012,"utc":true},{"year":2014,"utc":true},{"year":2016,"utc":true},{"year":2018,"utc":true},{"year":2020,"utc":true},{"year":2022,"utc":true}], "labelExpr": "utcFormat(datum.value, '%y')"}},
                "y": {"field": "v", "type": "quantitative", "axis": {"labelOverlap": false, "labelSeparation": -40, "values": [0,1,2,3,4,5,6,7,8,9], "labelExpr": "datum.value + '%'", "minExtent": 38}},
                "text": {"field": "lab"}}
            },
            {
              "data": {"values": [{}]},
              "mark": {"type": "text", "text": "Market Implied ERP", "fontSize": 16, "fontWeight": "bold", "color": "#000000", "align": "center", "baseline": "middle"},
              "encoding": {
                "x": {"datum": {"year": 2006, "month": 9, "date": 1, "utc": true}, "type": "temporal", "axis": {"labelOverlap": false, "labelSeparation": -40, "labelFlush": false, "values": [{"year":1990,"utc":true},{"year":1992,"utc":true},{"year":1994,"utc":true},{"year":1996,"utc":true},{"year":1998,"utc":true},{"year":2000,"utc":true},{"year":2002,"utc":true},{"year":2004,"utc":true},{"year":2006,"utc":true},{"year":2008,"utc":true},{"year":2010,"utc":true},{"year":2012,"utc":true},{"year":2014,"utc":true},{"year":2016,"utc":true},{"year":2018,"utc":true},{"year":2020,"utc":true},{"year":2022,"utc":true}], "labelExpr": "utcFormat(datum.value, '%y')"}},
                "y": {"datum": 8.75, "type": "quantitative", "axis": {"labelOverlap": false, "labelSeparation": -40, "values": [0,1,2,3,4,5,6,7,8,9], "labelExpr": "datum.value + '%'", "minExtent": 38}}
              }
            }
          ]
        },
        {"width": 591, "height": 28, "data": {"values": [{}]}, "mark": {"type": "rule", "color": "#7a7a7a", "strokeWidth": 1.5},
         "encoding": {"x": {"datum": -38, "type": "quantitative", "scale": {"domain": [0, 591], "nice": false, "zero": false}, "axis": null}, "x2": {"datum": 591}, "y": {"datum": 0, "type": "quantitative", "scale": {"domain": [0, 1]}, "axis": null}},
         "title": {"text": "Source: Bloomberg, Goldman Sachs Global Investment Research", "orient": "bottom", "anchor": "start", "offset": 14, "fontSize": 16, "fontWeight": "normal", "color": "#333333"}}
      ]
    },
    {
      "spacing": 10,
      "columns": 1,
      "resolve": {"scale": {"color": "independent"}, "legend": {"color": "independent"}},
      "concat": [
        {"width": 574, "height": 10, "data": {"values": [{}]}, "mark": {"type": "rule", "color": "#7a7a7a", "strokeWidth": 1.5},
         "encoding": {"x": {"datum": -55, "type": "quantitative", "scale": {"domain": [0, 574], "nice": false, "zero": false}, "axis": null}, "x2": {"datum": 574}, "y": {"datum": 1, "type": "quantitative", "scale": {"domain": [0, 1]}, "axis": null}}},
        {
          "width": 569, "height": 310,
          "title": {"text": ["Exhibit 5: Only 27% of European equities offer a yield >", "Corporate BY"], "subtitle": "% of companies with DY > CY for STOXX and S&P 500", "offset": 67},
          "data": {"name": "dy"},
          "transform": [{"fold": ["STOXX", "SP"], "as": ["s", "v"]}],
          "mark": {"type": "line", "strokeWidth": 3},
          "encoding": {
            "x": {"field": "d", "type": "temporal", "scale": {"type": "utc", "domain": [{"year": 2000, "month": 1, "date": 1, "utc": true}, {"year": 2022, "month": 11, "date": 10, "utc": true}]},
                  "axis": {"labelOverlap": false, "labelFlush": false, "values": [{"year":2000,"utc":true},{"year":2001,"utc":true},{"year":2002,"utc":true},{"year":2003,"utc":true},{"year":2004,"utc":true},{"year":2005,"utc":true},{"year":2006,"utc":true},{"year":2007,"utc":true},{"year":2008,"utc":true},{"year":2009,"utc":true},{"year":2010,"utc":true},{"year":2011,"utc":true},{"year":2012,"utc":true},{"year":2013,"utc":true},{"year":2014,"utc":true},{"year":2015,"utc":true},{"year":2016,"utc":true},{"year":2017,"utc":true},{"year":2018,"utc":true},{"year":2019,"utc":true},{"year":2020,"utc":true},{"year":2021,"utc":true},{"year":2022,"utc":true}], "labelExpr": "utcFormat(datum.value, '%y')"}},
            "y": {"field": "v", "type": "quantitative", "scale": {"domain": [0, 100]}, "axis": {"labelOverlap": false, "values": [0,10,20,30,40,50,60,70,80,90,100], "labelExpr": "datum.value + '%'", "minExtent": 55}},
            "color": {"field": "s", "type": "nominal", "scale": {"domain": ["STOXX", "SP"], "range": ["#a6cdee", "#0c3157"]},
                      "legend": {"title": null, "orient": "none", "legendX": 51, "legendY": 6, "direction": "vertical", "symbolType": "stroke", "symbolSize": 900, "symbolStrokeWidth": 3.5, "rowPadding": -5, "labelOffset": 3, "padding": 0, "labelExpr": "datum.label == 'STOXX' ? '% of STOXX 600 Companies with DY > CY' : '% of S&P 500 Companies with DY > CY'"}}
          }
        },
        {"width": 574, "height": 28, "data": {"values": [{}]}, "mark": {"type": "rule", "color": "#7a7a7a", "strokeWidth": 1.5},
         "encoding": {"x": {"datum": -55, "type": "quantitative", "scale": {"domain": [0, 574], "nice": false, "zero": false}, "axis": null}, "x2": {"datum": 574}, "y": {"datum": 0, "type": "quantitative", "scale": {"domain": [0, 1]}, "axis": null}},
         "title": {"text": "Source: Datastream, STOXX, Goldman Sachs Global Investment Research", "orient": "bottom", "anchor": "start", "offset": 14, "fontSize": 16, "fontWeight": "normal", "color": "#333333"}}
      ]
    },
    {
      "spacing": 10,
      "columns": 1,
      "concat": [
        {"width": 582, "height": 10, "data": {"values": [{}]}, "mark": {"type": "rule", "color": "#7a7a7a", "strokeWidth": 1.5},
         "encoding": {"x": {"datum": -47, "type": "quantitative", "scale": {"domain": [0, 582], "nice": false, "zero": false}, "axis": null}, "x2": {"datum": 582}, "y": {"datum": 1, "type": "quantitative", "scale": {"domain": [0, 1]}, "axis": null}}},
        {
          "width": 543, "height": 309,
          "title": {"text": ["Exhibit 6: The recent fall in the ERP stands in contrast to the", "decline in PMIs"], "subtitle": ["Europe Market Implied ERP (%) and Euro Area Manufacturing", "PMI"], "offset": 38},
          "layer": [
            {
              "data": {"name": "pmi"},
              "mark": {"type": "line", "color": "#a6cdee", "strokeWidth": 2.8, "clip": true},
              "encoding": {
                "x": {"field": "d", "type": "temporal", "scale": {"type": "utc", "domain": [{"year": 2009, "month": 1, "date": 1, "utc": true}, {"year": 2023, "month": 1, "date": 1, "utc": true}]},
                      "axis": {"labelOverlap": false, "labelSeparation": -40, "labelFlush": false, "values": [{"year":2009,"utc":true},{"year":2010,"utc":true},{"year":2011,"utc":true},{"year":2012,"utc":true},{"year":2013,"utc":true},{"year":2014,"utc":true},{"year":2015,"utc":true},{"year":2016,"utc":true},{"year":2017,"utc":true},{"year":2018,"utc":true},{"year":2019,"utc":true},{"year":2020,"utc":true},{"year":2021,"utc":true},{"year":2022,"utc":true},{"year":2023,"utc":true}], "labelExpr": "utcFormat(datum.value, '%Y') == '2023' ? '' : utcFormat(datum.value, '%y')"}},
                "y": {"field": "v", "type": "quantitative", "scale": {"domain": [35, 65], "reverse": true}, "axis": {"orient": "right", "labelOverlap": false, "values": [35,40,45,50,55,60,65]}}
              }
            },
            {
              "layer": [
                {
                  "data": {"name": "erp3"},
                  "mark": {"type": "line", "color": "#0c3157", "strokeWidth": 2.8},
                  "encoding": {
                    "x": {"field": "d", "type": "temporal", "axis": {"labelOverlap": false, "labelSeparation": -40, "labelFlush": false, "values": [{"year":2009,"utc":true},{"year":2010,"utc":true},{"year":2011,"utc":true},{"year":2012,"utc":true},{"year":2013,"utc":true},{"year":2014,"utc":true},{"year":2015,"utc":true},{"year":2016,"utc":true},{"year":2017,"utc":true},{"year":2018,"utc":true},{"year":2019,"utc":true},{"year":2020,"utc":true},{"year":2021,"utc":true},{"year":2022,"utc":true},{"year":2023,"utc":true}], "labelExpr": "utcFormat(datum.value, '%Y') == '2023' ? '' : utcFormat(datum.value, '%y')"}},
                    "y": {"field": "v", "type": "quantitative", "scale": {"domain": [4.5, 8.5]}, "axis": {"orient": "left", "labelOverlap": false, "labelSeparation": -40, "values": [4.5,5,5.5,6,6.5,7,7.5,8,8.5], "labelExpr": "format(datum.value, '.1f') + '%'", "minExtent": 47}}
                  }
                },
                {
                  "data": {"values": [{}]},
                  "mark": {"type": "text", "text": "EA Manufacturing PMI (RHS, Inverted)", "fontSize": 17, "fontWeight": "bold", "color": "#a6cdee", "align": "left", "baseline": "middle"},
                  "encoding": {
                    "x": {"datum": {"year": 2009, "month": 12, "date": 10, "utc": true}, "type": "temporal", "axis": {"labelOverlap": false, "labelSeparation": -40, "labelFlush": false, "values": [{"year":2009,"utc":true},{"year":2010,"utc":true},{"year":2011,"utc":true},{"year":2012,"utc":true},{"year":2013,"utc":true},{"year":2014,"utc":true},{"year":2015,"utc":true},{"year":2016,"utc":true},{"year":2017,"utc":true},{"year":2018,"utc":true},{"year":2019,"utc":true},{"year":2020,"utc":true},{"year":2021,"utc":true},{"year":2022,"utc":true},{"year":2023,"utc":true}], "labelExpr": "utcFormat(datum.value, '%Y') == '2023' ? '' : utcFormat(datum.value, '%y')"}},
                    "y": {"datum": 8.25, "type": "quantitative", "scale": {"domain": [4.5, 8.5]}, "axis": {"orient": "left", "labelOverlap": false, "labelSeparation": -40, "values": [4.5,5,5.5,6,6.5,7,7.5,8,8.5], "labelExpr": "format(datum.value, '.1f') + '%'", "minExtent": 47}}
                  }
                },
                {
                  "data": {"values": [{}]},
                  "mark": {"type": "text", "text": "Europe Market Implied ERP (%)", "fontSize": 17, "fontWeight": "bold", "color": "#0c3157", "align": "center", "baseline": "middle"},
                  "encoding": {
                    "x": {"datum": {"year": 2016, "month": 5, "date": 7, "utc": true}, "type": "temporal", "axis": {"labelOverlap": false, "labelSeparation": -40, "labelFlush": false, "values": [{"year":2009,"utc":true},{"year":2010,"utc":true},{"year":2011,"utc":true},{"year":2012,"utc":true},{"year":2013,"utc":true},{"year":2014,"utc":true},{"year":2015,"utc":true},{"year":2016,"utc":true},{"year":2017,"utc":true},{"year":2018,"utc":true},{"year":2019,"utc":true},{"year":2020,"utc":true},{"year":2021,"utc":true},{"year":2022,"utc":true},{"year":2023,"utc":true}], "labelExpr": "utcFormat(datum.value, '%Y') == '2023' ? '' : utcFormat(datum.value, '%y')"}},
                    "y": {"datum": 4.8, "type": "quantitative", "scale": {"domain": [4.5, 8.5]}, "axis": {"orient": "left", "labelOverlap": false, "labelSeparation": -40, "values": [4.5,5,5.5,6,6.5,7,7.5,8,8.5], "labelExpr": "format(datum.value, '.1f') + '%'", "minExtent": 47}}
                  }
                }
              ]
            }
          ],
          "resolve": {"scale": {"y": "independent"}}
        },
        {"width": 582, "height": 27, "data": {"values": [{}]}, "mark": {"type": "rule", "color": "#7a7a7a", "strokeWidth": 1.5},
         "encoding": {"x": {"datum": -47, "type": "quantitative", "scale": {"domain": [0, 582], "nice": false, "zero": false}, "axis": null}, "x2": {"datum": 582}, "y": {"datum": 0, "type": "quantitative", "scale": {"domain": [0, 1]}, "axis": null}},
         "title": {"text": "Source: Haver Analytics, Goldman Sachs Global Investment Research", "orient": "bottom", "anchor": "start", "offset": 14, "fontSize": 16, "fontWeight": "normal", "color": "#333333"}}
      ]
    }
  ]
}
